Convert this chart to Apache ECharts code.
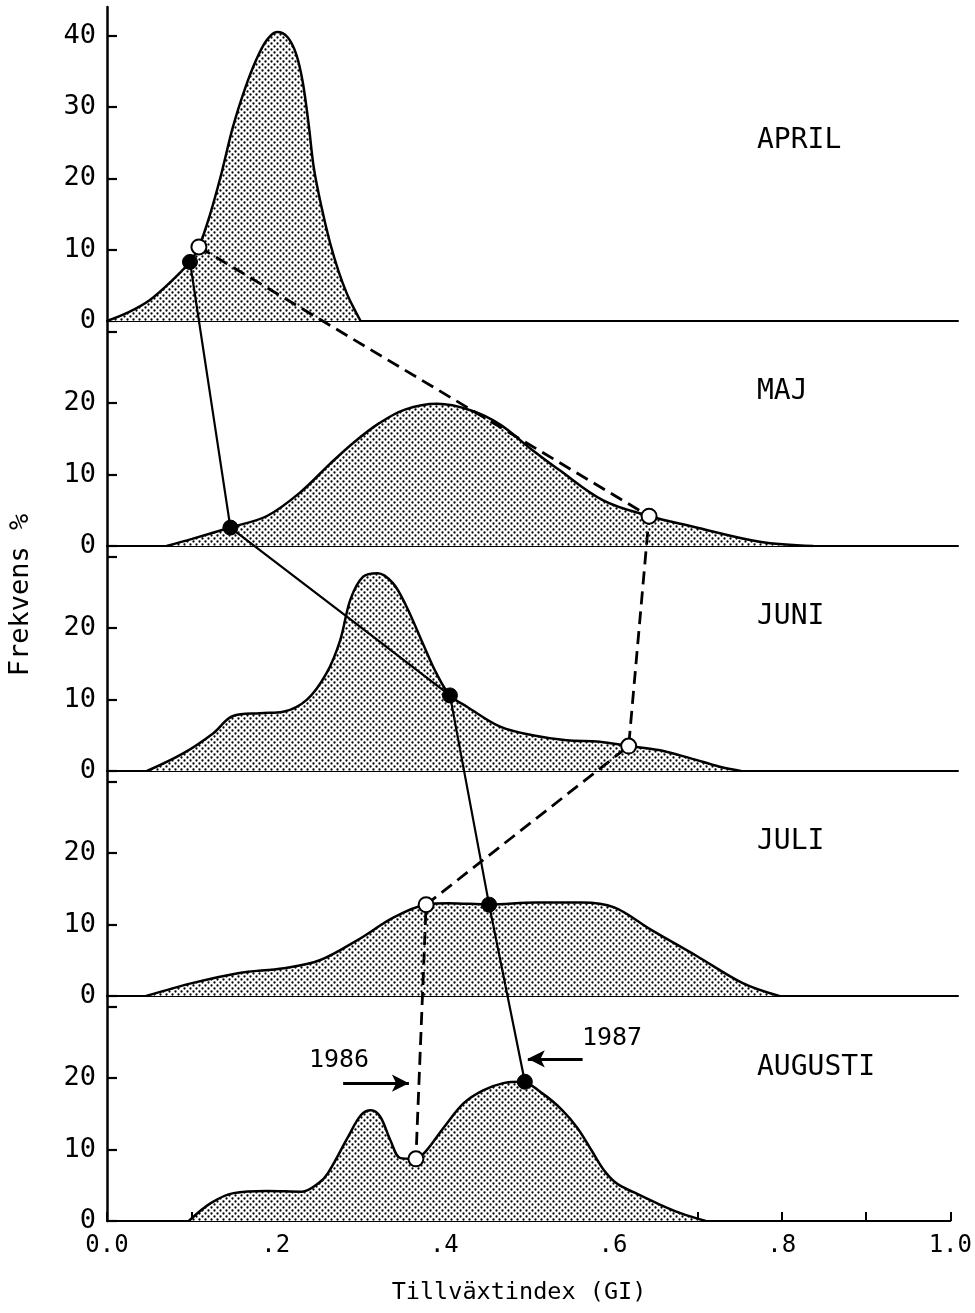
<!DOCTYPE html>
<html>
<head>
<meta charset="utf-8">
<style>
html,body{margin:0;padding:0;background:#fff;}
#c{width:975px;height:1313px;}
</style>
<script src="https://cdn.jsdelivr.net/npm/echarts@6/dist/echarts.min.js"></script>
</head>
<body>
<div id="c"></div>
<script>
// ---- data ----
var months = ['APRIL', 'MAJ', 'JUNI', 'JULI', 'AUGUSTI'];

var aprGI = [0.0, 0.025, 0.05, 0.075, 0.0975, 0.108, 0.12, 0.133, 0.148, 0.162, 0.175, 0.188, 0.2, 0.212, 0.222, 0.23, 0.237, 0.243, 0.252, 0.262, 0.272, 0.282, 0.29, 0.298];
var aprFr = [0, 1.2, 2.9, 5.5, 8.3, 10.4, 14.5, 20, 27.2, 32.5, 36.5, 39.4, 40.5, 39.8, 37.5, 33.5, 27.5, 21.5, 16, 11, 7, 3.8, 1.8, 0];

var majGI = [0.07, 0.1, 0.145, 0.188, 0.227, 0.262, 0.29, 0.32, 0.35, 0.388, 0.427, 0.462, 0.497, 0.532, 0.583, 0.637, 0.689, 0.767, 0.83];
var majFr = [0, 1, 2.6, 4.2, 7.5, 11.5, 14.5, 17.2, 19.1, 19.9, 19, 17, 13.7, 10.6, 6.4, 4.2, 2.7, 0.6, 0];

var junGI = [0.047, 0.09, 0.125, 0.148, 0.18, 0.207, 0.235, 0.258, 0.274, 0.286, 0.301, 0.318, 0.336, 0.352, 0.371, 0.387, 0.403, 0.423, 0.462, 0.5, 0.54, 0.579, 0.613, 0.65, 0.685, 0.72, 0.745];
var junFr = [0, 2.5, 5.3, 7.7, 8.1, 8.3, 10, 13.7, 18.3, 24, 27.2, 27.7, 26.3, 23, 17.9, 13.7, 10.6, 9, 6.2, 5, 4.3, 4.1, 3.5, 2.9, 1.8, 0.6, 0];

var julGI = [0.046, 0.1, 0.154, 0.208, 0.25, 0.294, 0.337, 0.375, 0.402, 0.449, 0.504, 0.558, 0.596, 0.639, 0.693, 0.747, 0.79];
var julFr = [0, 1.8, 3.2, 3.9, 5, 7.8, 11, 12.8, 13, 12.8, 13.1, 13.1, 12.4, 9.3, 5.6, 1.8, 0];

var augGI = [0.097, 0.123, 0.15, 0.19, 0.231, 0.251, 0.262, 0.286, 0.301, 0.313, 0.324, 0.336, 0.348, 0.363, 0.376, 0.4, 0.423, 0.446, 0.47, 0.491, 0.517, 0.54, 0.558, 0.575, 0.59, 0.605, 0.625, 0.65, 0.68, 0.71];
var augFr = [0, 2.5, 3.9, 4.2, 4.1, 5.3, 6.7, 11.8, 14.8, 15.5, 14.6, 11.3, 8.8, 8.7, 9.5, 13.2, 16.5, 18.3, 19.3, 19.5, 17.8, 15.5, 13, 9.8, 7, 5.2, 4, 2.6, 1.1, 0];

// medians per month (April..Augusti)
var gi1987 = [0.0975, 0.145, 0.403, 0.449, 0.491];
var fr1987 = [8.3, 2.6, 10.6, 12.8, 19.5];
var gi1986 = [0.108, 0.637, 0.613, 0.375, 0.363];
var fr1986 = [10.4, 4.2, 3.5, 12.8, 8.7];

var xTickLabels = ['0.0', '.2', '.4', '.6', '.8', '1.0'];
var yTicksApril = [0, 10, 20, 30, 40];
var yTicksOther = [0, 10, 20, 30];
var yLabelsOther = [0, 10, 20];

// ---- layout ----
var FONT = 'DejaVu Sans Mono';
var L = 107, R = 17;
var panelMax = [44, 31.5, 31.5, 31.5, 31.5];
var panelTop = [7, 321, 546, 771, 996];
var panelH = [314, 225, 225, 225, 225];
var curves = [[aprGI, aprFr], [majGI, majFr], [junGI, junFr], [julGI, julFr], [augGI, augFr]];

var offsets = [];
(function () {
  var acc = 0;
  for (var i = panelMax.length - 1; i >= 0; i--) { offsets[i] = acc; acc += panelMax[i]; }
})();
var overlayMax = offsets[0] + panelMax[0];

// stipple pattern
var pat = document.createElement('canvas');
pat.width = 6; pat.height = 6;
(function () {
  var g = pat.getContext('2d');
  g.fillStyle = '#ffffff'; g.fillRect(0, 0, 6, 6);
  g.fillStyle = '#000000';
  g.beginPath(); g.arc(1.5, 1.5, 1.15, 0, Math.PI * 2); g.fill();
  g.beginPath(); g.arc(4.5, 4.5, 1.15, 0, Math.PI * 2); g.fill();
})();

var grids = [], xAxes = [], yAxes = [], series = [];
for (var i = 0; i < 5; i++) {
  var isBottom = (i === 4);
  grids.push({ left: L, right: R, top: panelTop[i], height: panelH[i] });
  xAxes.push({
    type: 'value', gridIndex: i, min: 0, max: 1, interval: 0.1,
    axisLine: { show: true, lineStyle: { color: '#000', width: 2 } },
    axisTick: { show: isBottom, inside: true, length: 9, lineStyle: { color: '#000', width: 2 } },
    axisLabel: {
      show: isBottom, margin: 13, color: '#000', fontFamily: FONT, fontSize: 24,
      formatter: function (v) {
        var k = Math.round(v * 10);
        return (k % 2 === 0) ? xTickLabels[k / 2] : '';
      }
    },
    splitLine: { show: false }
  });
  yAxes.push({
    type: 'value', gridIndex: i, min: 0, max: panelMax[i], interval: 10,
    axisLine: { show: true, lineStyle: { color: '#000', width: 2.5 } },
    axisTick: { show: true, inside: true, length: 10, lineStyle: { color: '#000', width: 2.2 },
      customValues: i === 0 ? yTicksApril : yTicksOther },
    axisLabel: { show: true, margin: 11, color: '#000', fontFamily: FONT, fontSize: 27,
      customValues: i === 0 ? yTicksApril : yLabelsOther },
    splitLine: { show: false }
  });
  var pts = curves[i][0].map(function (x, j) { return [x, curves[i][1][j]]; });
  var s = {
    type: 'line', xAxisIndex: i, yAxisIndex: i, data: pts, smooth: 0.35,
    symbol: 'none', silent: true, z: 2,
    lineStyle: { color: '#000', width: 2.5 },
    areaStyle: { color: { image: pat, repeat: 'repeat' }, opacity: 1, origin: 'start' }
  };
  if (isBottom) {
    s.markLine = {
      silent: true, symbol: ['none', 'arrow'], symbolSize: [13, 17],
      label: { show: false },
      lineStyle: { color: '#000', width: 2.8, type: 'solid' },
      data: [
        [{ coord: [0.28, 19.3] }, { coord: [0.358, 19.3] }],
        [{ coord: [0.564, 22.7] }, { coord: [0.499, 22.7] }]
      ]
    };
  }
  series.push(s);
}

// overlay grid for connecting lines
grids.push({ left: L, right: R, top: panelTop[0], height: panelTop[4] + panelH[4] - panelTop[0] });
xAxes.push({ type: 'value', gridIndex: 5, min: 0, max: 1, show: false });
yAxes.push({ type: 'value', gridIndex: 5, min: 0, max: overlayMax, show: false });

var d1987 = gi1987.map(function (x, j) { return [x, fr1987[j] + offsets[j]]; });
var d1986 = gi1986.map(function (x, j) { return [x, fr1986[j] + offsets[j]]; });

series.push({
  type: 'line', xAxisIndex: 5, yAxisIndex: 5, data: d1986, z: 5, silent: true,
  symbol: 'circle', symbolSize: 15,
  itemStyle: { color: '#fff', borderColor: '#000', borderWidth: 2 },
  lineStyle: { color: '#000', width: 2.8, type: [13, 7] }
});
series.push({
  type: 'line', xAxisIndex: 5, yAxisIndex: 5, data: d1987, z: 6, silent: true,
  symbol: 'circle', symbolSize: 15,
  itemStyle: { color: '#000', borderColor: '#000', borderWidth: 1 },
  lineStyle: { color: '#000', width: 2.2 }
});

var monthY = [141, 392, 617, 842, 1068];
var graphics = months.map(function (m, j) {
  return { type: 'text', x: 757, y: monthY[j],
    style: { text: m, fill: '#000', font: '28px "' + FONT + '"', align: 'left', verticalAlign: 'middle' } };
});
graphics.push({ type: 'text', x: 519, y: 1293,
  style: { text: 'Tillväxtindex (GI)', fill: '#000', font: '23.5px "' + FONT + '"', align: 'center', verticalAlign: 'middle' } });
graphics.push({ type: 'text', x: 21, y: 595, rotation: Math.PI / 2,
  style: { text: 'Frekvens %', fill: '#000', font: '27px "' + FONT + '"', align: 'center', verticalAlign: 'middle' } });
graphics.push({ type: 'text', x: 339, y: 1060,
  style: { text: '1986', fill: '#000', font: '25px "' + FONT + '"', align: 'center', verticalAlign: 'middle' } });
graphics.push({ type: 'text', x: 612, y: 1038,
  style: { text: '1987', fill: '#000', font: '25px "' + FONT + '"', align: 'center', verticalAlign: 'middle' } });

var chart = echarts.init(document.getElementById('c'), null, { renderer: 'canvas' });
chart.setOption({
  animation: false,
  backgroundColor: '#fff',
  grid: grids, xAxis: xAxes, yAxis: yAxes, series: series, graphic: graphics
});
</script>
</body>
</html>
